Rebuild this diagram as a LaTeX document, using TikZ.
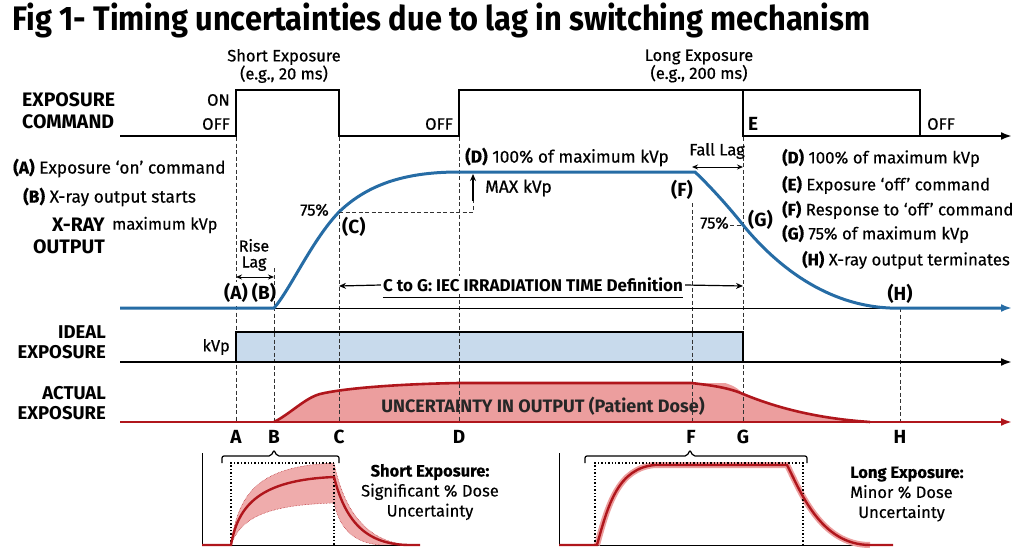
\documentclass[tikz,border=0pt]{standalone}
\usepackage{fontspec}
\setmainfont{Fira Sans}
\newfontfamily\medfont{Fira Sans}[FakeBold=0.7]
\newfontfamily\regfont{Fira Sans}[FakeBold=0.35]
\usetikzlibrary{arrows.meta}
\definecolor{xblue}{RGB}{38,108,165}
\definecolor{xred}{RGB}{176,22,28}
\definecolor{lred}{RGB}{236,158,158}
\definecolor{lblue}{RGB}{200,218,236}
\definecolor{dgray}{RGB}{50,50,50}
\begin{document}
\begin{tikzpicture}[x=1pt,y=-1pt,
  txt/.style={inner sep=0pt, font=\regfont\fontsize{17.3}{20}\selectfont},
  mtxt/.style={inner sep=0pt, font=\medfont\fontsize{16.5}{18}\selectfont},
  btxt/.style={inner sep=0pt, font=\bfseries\fontsize{19.5}{22}\selectfont},
  letter/.style={inner sep=0pt, font=\bfseries\fontsize{19}{22}\selectfont},
  cmdline/.style={line width=2.6pt, line join=miter},
  guide/.style={dash pattern=on 4pt off 2.5pt, line width=0.8pt, dgray},
  bigtip/.style={-{Latex[length=11pt,width=8pt]}},
  smalltip/.style={{Stealth[length=6pt,width=5pt]}-{Stealth[length=6pt,width=5pt]}},
  bluec/.style={xblue, line width=3pt},
  redc/.style={xred, line width=2.6pt},
  bracket/.style={line width=1.2pt, rounded corners=2pt}
]
\useasboundingbox (0,0) rectangle (1024,559);

% title
\node[anchor=west, inner sep=0pt] (title) at (12,20)
  {\resizebox{858pt}{\height}{\bfseries\fontsize{34}{36}\selectfont Fig 1- Timing uncertainties due to lag in switching mechanism}};

% fills
\fill[lblue] (236,332) rectangle (743,362);
\fill[lred] (274,422) .. controls (290,414) and (305,398) .. (320,394)
  .. controls (345,388) and (400,384) .. (459,383) -- (725,383)
  .. controls (735,386) and (740,390) .. (743,394)
  .. controls (770,405) and (810,418) .. (870,422) -- cycle;

% guide lines
\draw[guide] (236,137) -- (236,422);
\draw[guide] (274,268) -- (274,422);
\draw[guide] (339,137) -- (339,422);
\draw[guide] (459,137) -- (459,422);
\draw[guide] (692,203) -- (692,422);
\draw[guide] (743,137) -- (743,422);
\draw[guide] (900,308) -- (900,422);

% exposure command
\draw[cmdline, bigtip] (120,136) -- (236,136) -- (236,90) -- (339,90) -- (339,136)
  -- (459,136) -- (459,90) -- (743,90) -- (743,136) -- (1012,136);
\draw[line width=1.4pt] (743,90) -- (920,90) -- (920,136);

% x-ray output
\draw[line width=1pt] (274,308) -- (1000,308);
\draw[bluec, bigtip] (120,308) -- (274,308)
  .. controls (290,290) and (312,240) .. (339,212)
  .. controls (370,182) and (410,172) .. (459,172) -- (695,172)
  .. controls (712,188) and (733,212) .. (743,225)
  .. controls (770,258) and (820,305) .. (890,308) -- (1012,308);
\draw[guide] (339,212) -- (473,212) -- (473,200);
\draw[line width=1.2pt, -{Stealth[length=7pt,width=6pt]}] (473,201) -- (473,174);
\draw[guide] (730,225) -- (743,225);

% ideal exposure
\draw[line width=2.2pt, bigtip] (120,362) -- (236,362) -- (236,332) -- (743,332) -- (743,362) -- (1012,362);
\draw[line width=1.2pt] (236,362) -- (743,362);

% actual exposure
\draw[redc, bigtip] (120,422) -- (1012,422);
\draw[redc] (274,422) .. controls (290,414) and (305,398) .. (320,394)
  .. controls (345,388) and (400,384) .. (459,383) -- (691,383)
  .. controls (710,385) and (730,388) .. (743,394)
  .. controls (770,405) and (810,418) .. (870,422);

% lag arrows
\draw[smalltip, line width=1pt] (236,277) -- (274,277);
\draw[smalltip, line width=1pt] (692,167) -- (743,167);

% labels top
\node[mtxt, align=center] (shortexp) at (284,66) {Short Exposure\\(e.g., 20 ms)};
\node[mtxt, align=center] (longexp) at (699,66) {Long Exposure\\(e.g., 200 ms)};
\node[btxt, anchor=west, align=left] (expcmd) at (22,111) {EXPOSURE\\COMMAND};
\node[mtxt, anchor=east] (on) at (230,100) {ON};
\node[mtxt, anchor=east] (off1) at (230,124) {OFF};
\node[mtxt, anchor=east] (off2) at (453,124) {OFF};
\node[letter, anchor=west] (elbl) at (748,124) {E};
\node[mtxt, anchor=west] (off3) at (927,124) {OFF};

% left descriptions
\node[txt, anchor=west] (la) at (13,168) {\textbf{(A)} Exposure ‘on’ command};
\node[txt, anchor=west] (lb) at (23,197) {\textbf{(B)} X-ray output starts};
\node[btxt, anchor=east, align=right] (xray) at (105,236) {X-RAY\\OUTPUT};
\node[txt, anchor=west, font=\regfont\fontsize{16.5}{18}\selectfont] (maxkvp) at (112,225) {maximum kVp};
\node[mtxt, align=center, font=\medfont\fontsize{16}{16}\selectfont] (rise) at (254,255) {Rise\\Lag};
\node[letter, fill=white, inner sep=1pt] (pa) at (236,293) {(A)};
\node[letter] (pb) at (264,293) {(B)};
\node[mtxt, anchor=west] (pct1) at (300,210) {75\%};
\node[letter, anchor=west] (pc) at (342,227) {(C)};
\node[txt, anchor=west] (ld) at (465,157) {\textbf{(D)} 100\% of maximum kVp};
\node[mtxt, anchor=west, font=\medfont\fontsize{17.5}{19}\selectfont] (maxlbl) at (485,188) {MAX kVp};
\node[mtxt] (falllag) at (717,151) {Fall Lag};
\node[letter] (pf) at (682,190) {(F)};
\node[mtxt, anchor=east] (pct2) at (729,223) {75\%};
\node[letter, anchor=west] (pg) at (748,220) {(G)};
\node[letter] (ph) at (900,294) {(H)};

% right descriptions
\node[txt, anchor=west, font=\regfont\fontsize{16.8}{19}\selectfont] (rd) at (782,158) {\textbf{(D)} 100\% of maximum kVp};
\node[txt, anchor=west, font=\regfont\fontsize{16.8}{19}\selectfont] (re) at (782,185) {\textbf{(E)} Exposure ‘off’ command};
\node[txt, anchor=west, font=\regfont\fontsize{16.8}{19}\selectfont] (rf) at (782,210) {\textbf{(F)} Response to ‘off’ command};
\node[txt, anchor=west, font=\regfont\fontsize{16.8}{19}\selectfont] (rg) at (782,234) {\textbf{(G)} 75\% of maximum kVp};
\node[txt, anchor=west, font=\regfont\fontsize{16.8}{19}\selectfont] (rh) at (802,260) {\textbf{(H)} X-ray output terminates};

% IEC definition
\node[inner sep=2pt, fill=white, font=\bfseries\fontsize{17}{19}\selectfont] (cg) at (533,285) {C to G: IEC IRRADIATION TIME Definition};
\draw[line width=1pt] ([xshift=2pt,yshift=-3pt]cg.south west) -- ([xshift=-2pt,yshift=-3pt]cg.south east);
\coordinate (cpt) at (339,286);
\coordinate (gpt) at (743,286);
\draw[line width=1.2pt, -{Stealth[length=7pt,width=6pt]}] (cg.west) -- (cpt);
\draw[line width=1.2pt, -{Stealth[length=7pt,width=6pt]}] (cg.east) -- (gpt);

% ideal / actual labels
\node[btxt, anchor=east, align=right, font=\bfseries\fontsize{18.5}{20}\selectfont] (ideal) at (106,342) {IDEAL\\EXPOSURE};
\node[mtxt, anchor=east] (kvp) at (230,347) {kVp};
\node[btxt, anchor=east, align=right, font=\bfseries\fontsize{18.5}{20}\selectfont] (actual) at (106,403) {ACTUAL\\EXPOSURE};
\node[inner sep=0pt, font=\bfseries\fontsize{18}{20}\selectfont, text=black!85] (unc) at (543,406) {UNCERTAINTY IN OUTPUT (Patient Dose)};

% bottom letters
\node[letter] (la2) at (236,437) {A};
\node[letter] (lb2) at (274,437) {B};
\node[letter] (lc2) at (339,437) {C};
\node[letter] (ld2) at (459,437) {D};
\node[letter] (lf2) at (691,437) {F};
\node[letter] (lg2) at (743,437) {G};
\node[letter] (lh2) at (900,437) {H};

% left inset
\draw[bracket] (222,463) -- (222,456) -- (271,456) -- (274,450) -- (277,456) -- (339,456) -- (339,463);
\fill[lred, opacity=0.85] (231,545) .. controls (238,490) and (262,466) .. (334,463)
  .. controls (345,515) and (370,545) .. (415,545) -- (380,545)
  .. controls (355,543) and (340,530) .. (334,503)
  .. controls (262,505) and (240,520) .. (231,545) -- cycle;
\draw[xred, line width=0.5pt, densely dotted] (231,545) .. controls (238,490) and (262,466) .. (334,463)
  .. controls (345,515) and (370,545) .. (415,545);
\draw[xred, line width=0.5pt, densely dotted] (380,545)
  .. controls (355,543) and (340,530) .. (334,503)
  .. controls (262,505) and (240,520) .. (231,545);
\draw[line width=1pt] (202,453) -- (202,545) -- (420,545);
\draw[line width=1.4pt, dotted] (231,545) -- (231,463) -- (334,463) -- (334,545);
\draw[xred, line width=2.4pt] (202,545) -- (231,545) .. controls (238,505) and (260,480) .. (334,477)
  .. controls (345,520) and (365,545) .. (410,545) -- (420,545);
\node[inner sep=0pt, align=center, font=\regfont\fontsize{16.5}{20}\selectfont] (shortnote) at (430,492)
  {\textbf{Short Exposure:}\\Significant \% Dose\\Uncertainty};

% right inset
\draw[bracket] (585,463) -- (585,456) -- (687,456) -- (690,450) -- (693,456) -- (807,456) -- (807,463);
\draw[line width=1pt] (559,453) -- (559,545) -- (893,545);
\draw[lred, line width=6pt] (597,545) .. controls (608,505) and (618,468) .. (655,465) -- (787,465)
  .. controls (800,490) and (820,545) .. (870,545);
\draw[line width=1.4pt, dotted] (595,545) -- (595,463) -- (803,463) -- (803,545);
\draw[xred, line width=2.4pt] (559,545) -- (597,545) .. controls (608,505) and (618,468) .. (655,465) -- (787,465)
  .. controls (800,490) and (820,545) .. (870,545) -- (893,545);
\node[inner sep=0pt, anchor=west, align=left, font=\regfont\fontsize{16.5}{20}\selectfont] (longnote) at (850,494)
  {\textbf{Long Exposure:}\\Minor \% Dose\\\hspace*{8pt}Uncertainty};
\end{tikzpicture}
\end{document}
